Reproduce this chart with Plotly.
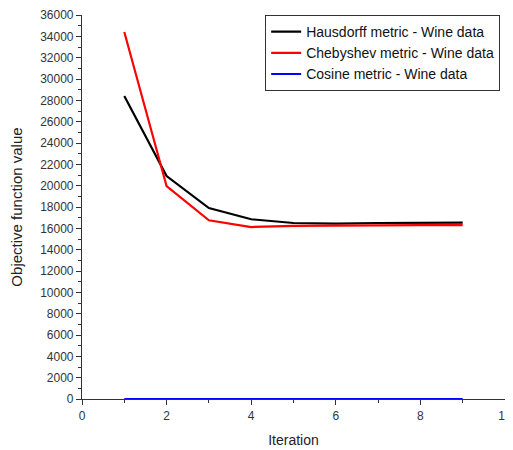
import plotly.graph_objects as go

iterations = [1, 2, 3, 4, 5, 6, 7, 8, 9]
hausdorff = [28400, 20900, 17900, 16850, 16500, 16450, 16500, 16520, 16530]
chebyshev = [34400, 19950, 16750, 16120, 16230, 16270, 16290, 16300, 16300]
cosine = [0, 0, 0, 0, 0, 0, 0, 0, 0]

series_names = ["Hausdorff metric - Wine data", "Chebyshev metric - Wine data", "Cosine metric - Wine data"]
series_values = [hausdorff, chebyshev, cosine]
series_colors = ["#000000", "#ff0000", "#0000ff"]

fig = go.Figure()
for name, vals, col in zip(series_names, series_values, series_colors):
    fig.add_trace(go.Scatter(x=iterations, y=vals, mode="lines", name=name,
                             line=dict(color=col, width=2.2)))

font = "Arial, Liberation Sans, sans-serif"
axis_common = dict(showline=True, linecolor="#333333", linewidth=1.2, ticks="outside",
                   ticklen=5, tickwidth=1.2, tickcolor="#333333", showgrid=False, zeroline=False,
                   tickfont=dict(family=font, size=12, color="#333333"),
                   ticklabeloverflow="allow", automargin=False)

# page body has an 8px margin, so the figure is offset/sized to fit the 513x450 window
fig.update_layout(
    width=505, height=442, autosize=False,
    margin=dict(l=74, r=8, t=7, b=51),
    paper_bgcolor="white", plot_bgcolor="white",
    font=dict(family=font, color="#222222"),
    xaxis=dict(range=[0, 10], dtick=2, tick0=0, tickformat="d",
               minor=dict(dtick=1, ticklen=3, tickcolor="#333333", ticks="outside"),
               title=dict(text="Iteration", font=dict(family=font, size=14, color="#222222"), standoff=13),
               **axis_common),
    yaxis=dict(range=[0, 36000], dtick=2000, tick0=0, tickformat="d",
               minor=dict(dtick=1000, ticklen=3, tickcolor="#333333", ticks="outside"),
               title=dict(text="Objective function value", font=dict(family=font, size=15, color="#222222"), standoff=18),
               **axis_common),
    legend=dict(x=0.433, y=1.0, xanchor="left", yanchor="top",
                bordercolor="#333333", borderwidth=1, bgcolor="white",
                font=dict(family=font, size=14, color="#111111"),
                tracegroupgap=0, itemwidth=30),
    showlegend=True,
)

fig.write_html("out.html")
